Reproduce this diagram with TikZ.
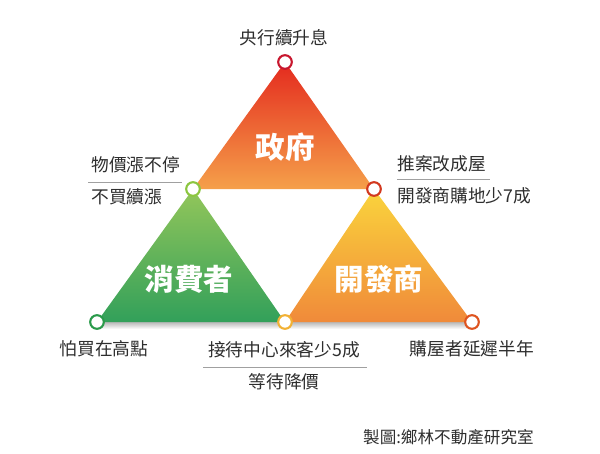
\documentclass[tikz,border=0pt]{standalone}
\usepackage{fontspec}
\setmainfont{Noto Sans CJK TC}
\usepackage{xcolor}
\usepackage{tikz}
\usetikzlibrary{positioning}

\definecolor{govTop}{HTML}{E42A1E}
\definecolor{govBot}{HTML}{F5A04A}
\definecolor{conTop}{HTML}{93C65A}
\definecolor{conBot}{HTML}{32A05A}
\definecolor{devTop}{HTML}{FAD43C}
\definecolor{devBot}{HTML}{F08A3A}
\definecolor{txtGray}{HTML}{2E2E2E}
\definecolor{ruleGray}{HTML}{A0A0A0}
% ring colours
\definecolor{ringTop}{HTML}{C8172E}
\definecolor{ringMidL}{HTML}{8CC63F}
\definecolor{ringMidR}{HTML}{D2381E}
\definecolor{ringBotL}{HTML}{2A9A4A}
\definecolor{ringBotM}{HTML}{F2B134}
\definecolor{ringBotR}{HTML}{DE5420}

\begin{document}
\begin{tikzpicture}[
        x=0.025cm, y=-0.025cm,
        vtx/.style={circle, fill=white, draw, line width=1.5pt, minimum size=0.34cm, inner sep=0pt},
        lbl/.style={font=\fontsize{12.6}{14}\selectfont, text=txtGray, inner sep=0pt},
        credit/.style={font=\fontsize{11.8}{13}\selectfont, text=txtGray, inner sep=0pt},
        title/.style={font=\fontsize{21}{24}\selectfont\bfseries, text=white, inner sep=0pt},
        sep/.style={draw=ruleGray, line width=0.6pt}
    ]
    \useasboundingbox (0,0) rectangle (600,454);

    % Corner points
    \coordinate (pTop)  at (285, 62);
    \coordinate (pMidL) at (193, 189);
    \coordinate (pMidR) at (374, 189);
    \coordinate (pBotL) at (97, 322);
    \coordinate (pBotM) at (285, 322);
    \coordinate (pBotR) at (472, 322);

    % Soft shadow under the base
    \shade[top color=black!28, bottom color=white] (100, 322) rectangle (470, 329);

    % Triangles
    \shade[top color=govTop, bottom color=govBot] (pTop) -- (pMidR) -- (pMidL) -- cycle;
    \shade[top color=conTop, bottom color=conBot] (pMidL) -- (pBotM) -- (pBotL) -- cycle;
    \shade[top color=devTop, bottom color=devBot] (pMidR) -- (pBotR) -- (pBotM) -- cycle;

    % Vertex rings
    \node[vtx, draw=ringTop]  (top)  at (pTop)  {};
    \node[vtx, draw=ringMidL] (midL) at (pMidL) {};
    \node[vtx, draw=ringMidR] (midR) at (pMidR) {};
    \node[vtx, draw=ringBotL] (botL) at (pBotL) {};
    \node[vtx, draw=ringBotM] (botM) at (pBotM) {};
    \node[vtx, draw=ringBotR] (botR) at (pBotR) {};

    % Titles
    \node[title] (gov) at (285, 147) {政府};
    \node[title] (con) at (189, 279) {消費者};
    \node[title] (dev) at (379, 279) {開發商};

    % Labels
    \node[lbl] (rate) at (284, 38) {央行續升息};

    \node[lbl, anchor=west] (price) at (91, 165) {物價漲不停};
    \node[lbl, anchor=west] (nobuy) at (91, 197) {不買續漲};
    \coordinate (sepLa) at (88, 182);
    \coordinate (sepLb) at (182, 182);
    \draw[sep] (sepLa) -- (sepLb);

    \node[lbl, anchor=west] (ready) at (397, 164) {推案改成屋};
    \node[lbl, anchor=west] (land)  at (397, 196) {開發商購地少7成};
    \coordinate (sepRa) at (397, 179);
    \coordinate (sepRb) at (490, 179);
    \draw[sep] (sepRa) -- (sepRb);

    \node[lbl] (fear)  at (104, 349) {怕買在高點};
    \node[lbl] (visit) at (284, 350) {接待中心來客少5成};
    \node[lbl] (wait)  at (284, 382) {等待降價};
    \coordinate (sepMa) at (203, 367);
    \coordinate (sepMb) at (367, 367);
    \draw[sep] (sepMa) -- (sepMb);
    \node[lbl] (delay) at (472, 349) {購屋者延遲半年};

    % Source
    \node[credit, anchor=east] (src) at (534, 437) {製圖:鄉林不動產研究室};

\end{tikzpicture}
\end{document}
